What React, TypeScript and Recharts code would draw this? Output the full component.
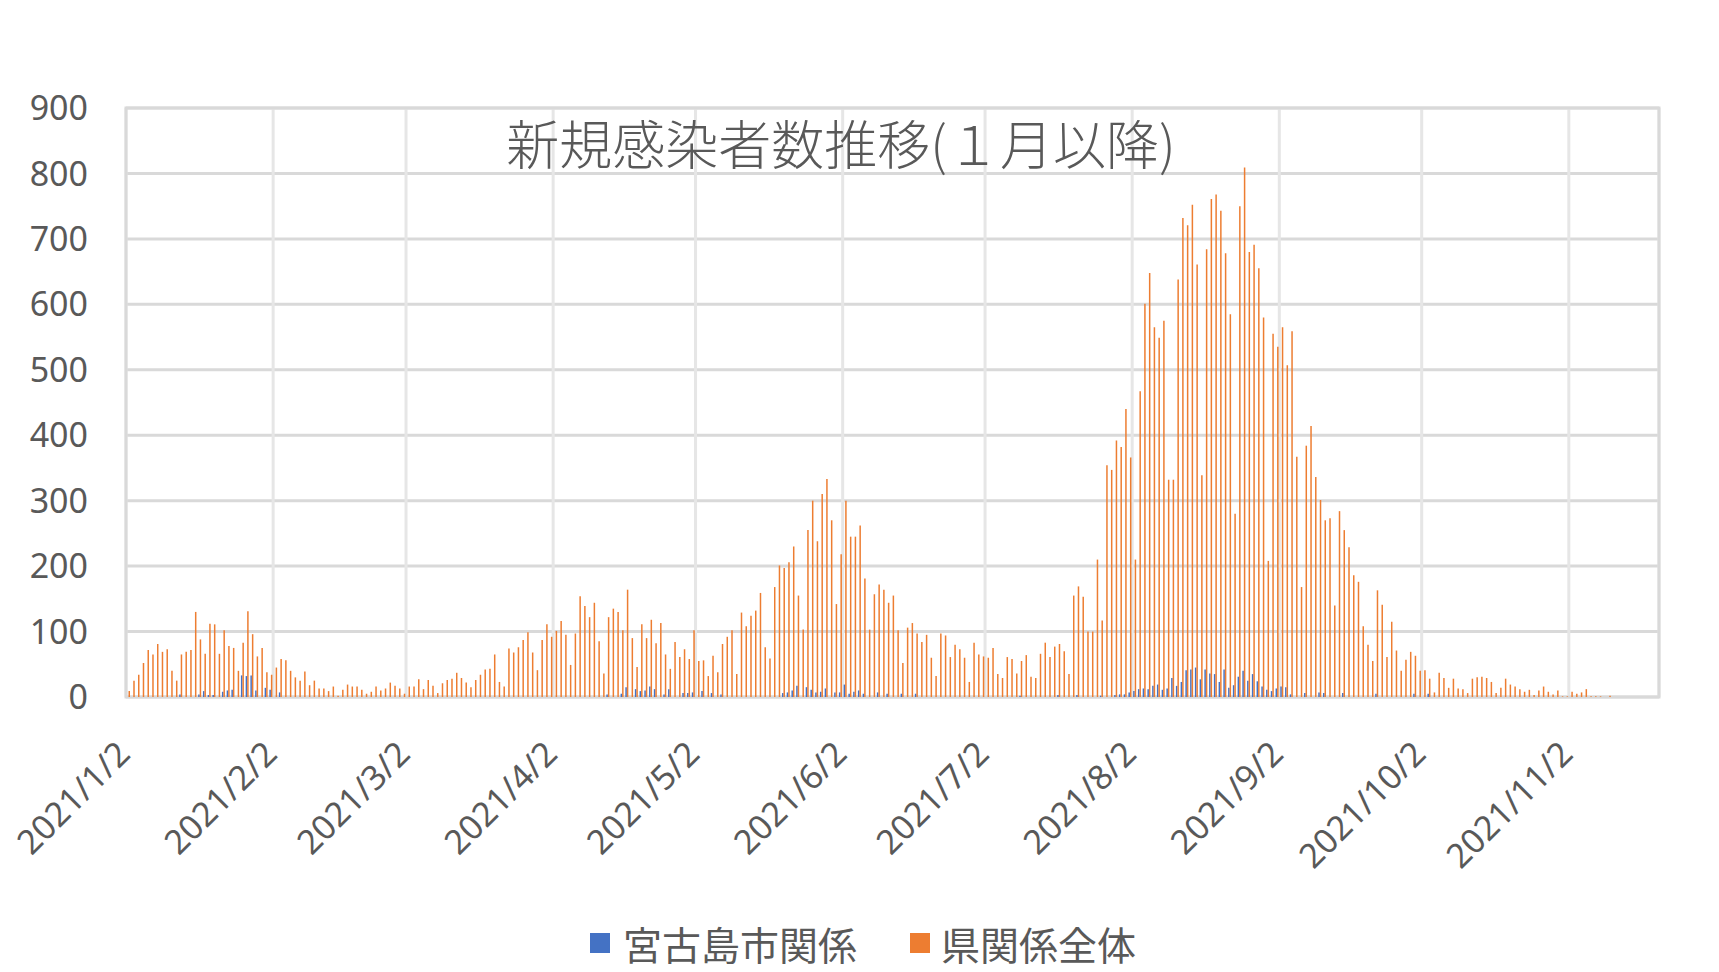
import React from 'react';
import { BarChart, Bar, XAxis, YAxis, CartesianGrid, Legend, ReferenceArea } from 'recharts';

// Daily categories: 2021/1/2 .. 2021/11/20
const START = Date.UTC(2021, 0, 2);
const DAY_COUNT = 323;
const dates: string[] = Array.from({ length: DAY_COUNT }, (_, i) => {
  const d = new Date(START + i * 86400000);
  return `${d.getUTCFullYear()}/${d.getUTCMonth() + 1}/${d.getUTCDate()}`;
});

// 県関係全体 (prefecture total), by month
const prefJan = [9, 25, 34, 52, 72, 65, 81, 69, 73, 40, 25, 65, 69, 72, 130, 88, 66, 112, 111, 66, 102, 78, 75, 40, 83, 131, 96, 62, 75, 38];
const prefFeb = [34, 45, 58, 56, 40, 30, 25, 39, 18, 25, 13, 13, 9, 16, 2, 11, 19, 16, 16, 11, 5, 8, 16, 10, 13, 22, 17, 13];
const prefMar = [5, 16, 16, 27, 12, 26, 17, 6, 21, 26, 28, 37, 29, 22, 15, 26, 34, 42, 43, 65, 23, 16, 74, 68, 76, 87, 99, 68, 41, 87, 111];
const prefApr = [92, 101, 116, 95, 49, 97, 154, 139, 122, 144, 85, 36, 122, 135, 130, 102, 164, 90, 46, 111, 90, 118, 82, 113, 65, 43, 84, 61, 73, 58];
const prefMay = [102, 55, 56, 32, 63, 38, 81, 92, 102, 35, 129, 108, 124, 132, 159, 76, 59, 168, 201, 197, 206, 230, 155, 103, 255, 300, 238, 310, 333, 270, 142];
const prefJun = [218, 300, 245, 245, 262, 181, 103, 157, 172, 164, 144, 155, 102, 52, 106, 113, 97, 84, 95, 60, 32, 97, 94, 61, 80, 73, 60, 23, 83, 65];
const prefJul = [62, 60, 75, 35, 29, 61, 58, 36, 55, 64, 31, 29, 66, 83, 61, 77, 81, 70, 35, 155, 169, 153, 100, 100, 210, 117, 354, 347, 392, 382, 440];
const prefAug = [366, 210, 467, 601, 648, 565, 549, 575, 332, 332, 638, 732, 721, 752, 661, 339, 684, 761, 768, 743, 678, 585, 280, 750, 809, 680, 691, 655, 580, 208, 555];
const prefSep = [535, 565, 507, 559, 367, 168, 384, 414, 336, 301, 270, 273, 140, 284, 255, 229, 186, 176, 108, 80, 55, 163, 141, 61, 115, 71, 40, 57, 69, 63];
const prefOct = [40, 41, 28, 7, 37, 29, 14, 28, 13, 12, 6, 28, 30, 31, 29, 23, 6, 14, 28, 19, 16, 12, 8, 11, 3, 10, 16, 8, 4, 10, 1];
const prefNov = [1, 8, 5, 7, 12, 1, 1, 1, 0, 2, 0, 0, 0, 0, 0, 0, 0, 0, 0, 0];

// 宮古島市関係 (Miyakojima city), by month
const cityJan = [0, 0, 0, 0, 0, 0, 0, 0, 0, 0, 0, 4, 0, 0, 0, 4, 9, 3, 3, 0, 8, 10, 11, 0, 33, 32, 33, 10, 0, 14];
const cityFeb = [11, 0, 7, 0, 0, 0, 0, 0, 0, 0, 0, 0, 0, 0, 0, 0, 0, 0, 0, 0, 0, 0, 0, 0, 0, 0, 0, 0];
const cityMar = [0, 0, 0, 0, 0, 0, 0, 0, 0, 0, 0, 0, 0, 0, 0, 0, 0, 0, 0, 0, 0, 0, 0, 0, 0, 0, 0, 0, 0, 0, 0];
const cityApr = [0, 0, 0, 0, 0, 0, 0, 0, 0, 0, 0, 0, 4, 0, 0, 5, 15, 0, 12, 9, 10, 16, 12, 0, 4, 12, 0, 0, 6, 6];
const cityMay = [7, 0, 9, 0, 6, 0, 4, 0, 0, 0, 0, 0, 0, 0, 0, 0, 0, 0, 0, 6, 7, 10, 17, 0, 15, 11, 7, 8, 13, 0, 7];
const cityJun = [7, 19, 5, 8, 10, 5, 0, 0, 7, 0, 5, 0, 0, 5, 0, 0, 5, 0, 0, 0, 0, 0, 0, 0, 0, 0, 0, 0, 0, 0];
const cityJul = [0, 0, 0, 0, 0, 0, 0, 0, 2, 0, 0, 0, 0, 0, 0, 0, 3, 0, 0, 0, 3, 0, 0, 0, 0, 2, 0, 0, 3, 4, 4];
const cityAug = [7, 9, 12, 13, 12, 17, 19, 11, 13, 29, 17, 23, 41, 42, 45, 27, 42, 36, 35, 23, 42, 14, 18, 31, 40, 25, 35, 24, 16, 11, 9];
const citySep = [13, 16, 15, 4, 0, 0, 6, 0, 0, 7, 6, 0, 0, 0, 6, 0, 0, 0, 0, 0, 0, 5, 0, 0, 0, 0, 0, 0, 0, 5];
const cityOct = [0, 0, 5, 0, 0, 0, 0, 0, 0, 0, 0, 0, 0, 0, 0, 0, 0, 0, 0, 0, 0, 0, 0, 0, 0, 0, 0, 0, 0, 0, 0];
const cityNov = [0, 0, 0, 0, 0, 0, 0, 0, 0, 0, 0, 0, 0, 0, 0, 0, 0, 0, 0, 0];

const prefValues = [...prefJan, ...prefFeb, ...prefMar, ...prefApr, ...prefMay, ...prefJun, ...prefJul, ...prefAug, ...prefSep, ...prefOct, ...prefNov];
const cityValues = [...cityJan, ...cityFeb, ...cityMar, ...cityApr, ...cityMay, ...cityJun, ...cityJul, ...cityAug, ...citySep, ...cityOct, ...cityNov];

const TICK_INDEX = [0, 31, 59, 90, 120, 151, 181, 212, 243, 273, 304];
const TICK_LABELS = ['2021/1/2', '2021/2/2', '2021/3/2', '2021/4/2', '2021/5/2', '2021/6/2', '2021/7/2', '2021/8/2', '2021/9/2', '2021/10/2', '2021/11/2'];
const Y_TICKS = [0, 100, 200, 300, 400, 500, 600, 700, 800, 900];

const SERIES_CITY = '宮古島市関係';
const SERIES_PREF = '県関係全体';
const TITLE = '新規感染者数推移(１月以降)';

const BLUE = '#4472C4';
const ORANGE = '#ED7D31';
const TEXT = '#595959';
const NUM_FONT = "'Noto Sans', 'Open Sans', sans-serif";
const CJK_FONT = "'Noto Sans CJK JP', 'Noto Sans', sans-serif";

const data = dates.map((d, i) => ({
  date: d,
  idx: i + 0.5,
  city: cityValues[i] ?? 0,
  pref: prefValues[i] ?? 0,
}));

const XTick = (props: any) => {
  const { x, y, payload } = props;
  const k = TICK_INDEX.indexOf(payload.value);
  const label = k >= 0 ? TICK_LABELS[k] : '';
  const ex = x + 6;
  const ey = y + 29;
  return (
    <text x={ex} y={ey} transform={`rotate(-45, ${ex}, ${ey})`} textAnchor="end" fill={TEXT} fontSize={34} fontFamily={NUM_FONT}>
      {label}
    </text>
  );
};

const LegendContent = () => (
  <div style={{ display: 'flex', alignItems: 'center', justifyContent: 'center', fontFamily: CJK_FONT, fontSize: 39, color: TEXT, lineHeight: '50px', paddingLeft: 7 }}>
    <span style={{ display: 'inline-block', width: 20, height: 20, background: BLUE, marginRight: 13 }} />
    <span style={{ marginRight: 53 }}>{SERIES_CITY}</span>
    <span style={{ display: 'inline-block', width: 20, height: 20, background: ORANGE, marginRight: 11 }} />
    <span>{SERIES_PREF}</span>
  </div>
);

export default function App() {
  return (
    <div style={{ position: 'absolute', left: 0, top: 0, width: 1719, height: 972, background: '#ffffff', overflow: 'hidden' }}>
      <BarChart width={1719} height={972} data={data} margin={{ top: 108, right: 60, bottom: 0, left: 0 }} barGap={0}>
        <CartesianGrid xAxisId="num" vertical={false} stroke="#d9d9d9" strokeWidth={3} />
        <CartesianGrid xAxisId="num" horizontal={false} stroke="#e6e6e6" strokeWidth={3} />
        <XAxis xAxisId="cat" dataKey="date" hide />
        <XAxis
          xAxisId="num"
          type="number"
          dataKey="idx"
          domain={[0, DAY_COUNT]}
          ticks={TICK_INDEX}
          allowDataOverflow
          interval={0}
          height={275}
          tick={<XTick />}
          tickLine={false}
          axisLine={false}
          tickSize={0}
          tickMargin={0}
        />
        <YAxis
          domain={[0, 900]}
          ticks={Y_TICKS}
          width={126}
          axisLine={false}
          tickLine={false}
          tickSize={0}
          tickMargin={38}
          interval={0}
          tick={{ fill: TEXT, fontSize: 34, fontFamily: NUM_FONT }}
        />
        <ReferenceArea xAxisId="num" x1={0} x2={DAY_COUNT} y1={0} y2={900} fill="none" stroke="#d9d9d9" strokeWidth={3} ifOverflow="visible" />
        <Bar xAxisId="cat" dataKey="city" name={SERIES_CITY} fill={BLUE} barSize={1.5} isAnimationActive={false} />
        <Bar xAxisId="cat" dataKey="pref" name={SERIES_PREF} fill={ORANGE} barSize={1.5} isAnimationActive={false} />
        <Legend
          verticalAlign="middle"
          layout="horizontal"
          content={<LegendContent />}
          wrapperStyle={{ position: 'absolute', left: 0, top: 918, width: 1719, height: 50 }}
        />
      </BarChart>
      <div
        style={{
          position: 'absolute',
          left: 0,
          top: 116,
          width: 1682,
          textAlign: 'center',
          fontFamily: CJK_FONT,
          fontSize: 53,
          fontWeight: 300,
          lineHeight: '53px',
          color: TEXT,
          pointerEvents: 'none',
        }}
      >
        {TITLE}
      </div>
    </div>
  );
}
